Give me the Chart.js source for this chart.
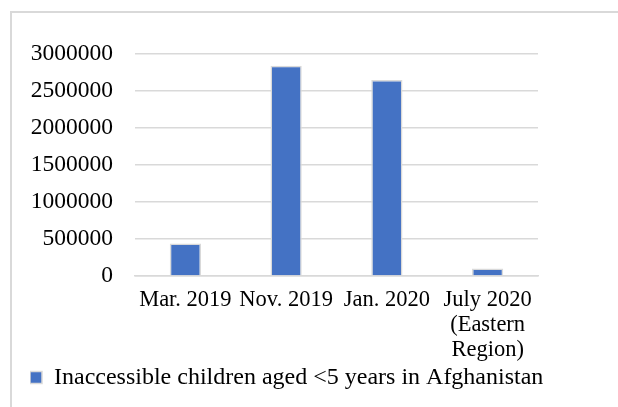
<!DOCTYPE html>
<html>
<head>
<meta charset="utf-8">
<script src="https://cdn.jsdelivr.net/npm/chart.js@4"></script>
<style>
  html, body { margin: 0; padding: 0; background: #fff; overflow: hidden; }
  canvas { display: block; }
</style>
</head>
<body>
<canvas id="chart" width="618" height="407"></canvas>
<script>
// data
const categories = ['Mar. 2019', 'Nov. 2019', 'Jan. 2020', ['July 2020', '(Eastern', 'Region)']];
const seriesName = 'Inaccessible children aged <5 years in Afghanistan';
const children = [440000, 2840000, 2650000, 100000];
const yTicks = [0, 500000, 1000000, 1500000, 2000000, 2500000, 3000000];

const serif = '"Liberation Serif", "Times New Roman", serif';

// light grey frame on the top and left edges, like the source chart box
const framePlugin = {
    id: 'frame',
    beforeDraw: function (chart) {
        const c = chart.ctx;
        c.save();
        c.fillStyle = '#d9d9d9';
        c.fillRect(10, 11, chart.width - 10, 2);
        c.fillRect(10, 11, 2, chart.height - 11);
        c.restore();
    }
};

function drawChart() {
    const ctx = document.getElementById('chart');

    new Chart(ctx, {
        type: 'bar',
        data: {
            labels: categories,
            datasets: [{
                label: seriesName,
                data: children,
                backgroundColor: '#4472c4',
                borderColor: '#d9d9d9',
                borderWidth: 1.5,
                barPercentage: 0.31,
                categoryPercentage: 1
            }]
        },
        options: {
            responsive: false,
            animation: false,
            layout: {
                padding: { left: 30, right: 50, top: 54, bottom: 7.5 }
            },
            plugins: {
                legend: {
                    position: 'bottom',
                    align: 'start',
                    labels: {
                        color: '#000',
                        font: { family: serif, size: 24 },
                        boxWidth: 12,
                        boxHeight: 12,
                        padding: 0
                    }
                },
                tooltip: { enabled: false }
            },
            scales: {
                x: {
                    grid: { display: false, drawTicks: false },
                    border: { display: true, color: '#d9d9d9', width: 1.5 },
                    ticks: {
                        color: '#000',
                        font: { family: serif, size: 22.5, lineHeight: 1.1 },
                        padding: 12,
                        maxRotation: 0,
                        autoSkip: false
                    },
                    afterFit: function (axis) { axis.height = 89.5; }
                },
                y: {
                    min: 0,
                    max: 3000000,
                    grid: { color: '#d9d9d9', lineWidth: 1.5, drawTicks: false },
                    border: { display: false },
                    ticks: {
                        color: '#000',
                        font: { family: serif, size: 23.5 },
                        padding: 22,
                        callback: function (v) { return String(v); }
                    },
                    afterBuildTicks: function (axis) {
                        axis.ticks = yTicks.map(function (v) { return { value: v }; });
                    },
                    afterFit: function (axis) { axis.width = 105; }
                },
                // empty spacer on the right so the legend gets the full width
                spacer: {
                    position: 'right',
                    grid: { display: false, drawTicks: false },
                    border: { display: false },
                    ticks: { display: false },
                    afterFit: function (axis) { axis.width = 30; }
                }
            }
        },
        plugins: [framePlugin]
    });
}

document.fonts.load('23px "Liberation Serif"').then(drawChart, drawChart);
</script>
</body>
</html>
